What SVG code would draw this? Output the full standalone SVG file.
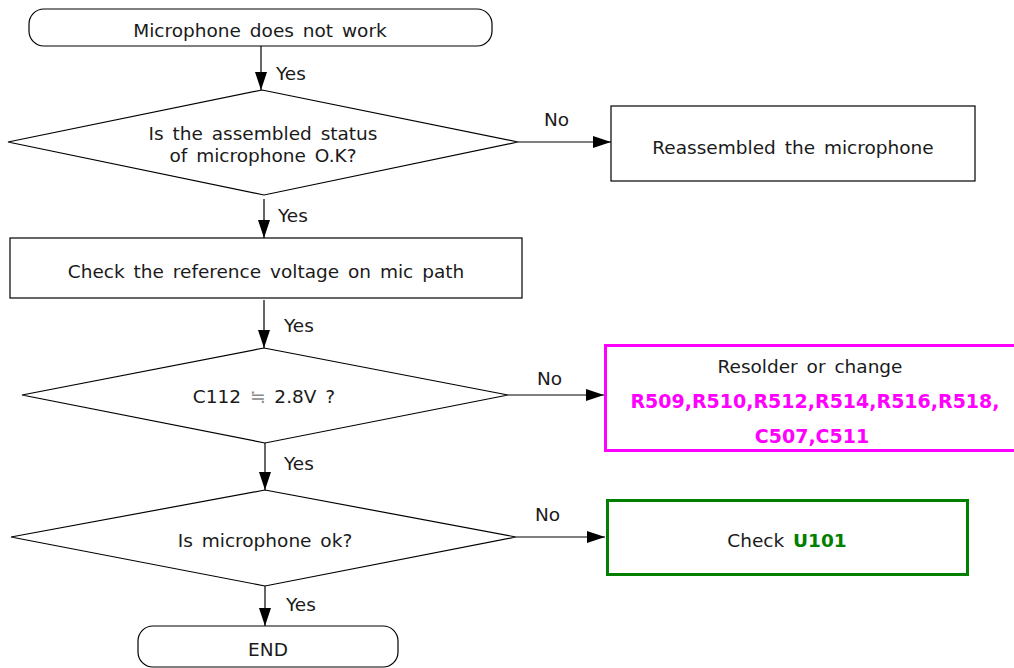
<svg xmlns="http://www.w3.org/2000/svg" width="1014" height="668" viewBox="0 0 1014 668">
<style>
text{font-family:"DejaVu Sans","Liberation Sans",sans-serif;font-size:18.5px;fill:#1a1a1a;text-anchor:middle;word-spacing:3px}
.shape{fill:#fff;stroke:#000;stroke-width:1.2}
.line{stroke:#000;stroke-width:1.2;fill:none}
.lbl{text-anchor:start}
.mag{fill:#ff00ff;font-weight:bold;word-spacing:0;font-size:19px}
.grn{fill:#008000;font-weight:bold}
</style>
<defs>
<marker id="ah" markerWidth="18" markerHeight="12" refX="18" refY="6" orient="auto" markerUnits="userSpaceOnUse">
<path d="M0,0 L18,6 L0,12 Z" fill="#000"/>
</marker>
</defs>
<rect width="1014" height="668" fill="#fff"/>
<g id="connectors">
<line class="line" x1="261" y1="46" x2="261" y2="90" marker-end="url(#ah)"/>
<text class="lbl" x="276" y="80">Yes</text>
<line class="line" x1="518" y1="142" x2="611" y2="142" marker-end="url(#ah)"/>
<text class="lbl" x="544" y="126">No</text>
<line class="line" x1="264" y1="199" x2="264" y2="238" marker-end="url(#ah)"/>
<text class="lbl" x="278" y="222">Yes</text>
<line class="line" x1="264" y1="300" x2="264" y2="348" marker-end="url(#ah)"/>
<text class="lbl" x="284" y="332">Yes</text>
<line class="line" x1="508" y1="395" x2="604" y2="395" marker-end="url(#ah)"/>
<text class="lbl" x="537" y="385">No</text>
<line class="line" x1="265" y1="443" x2="265" y2="490" marker-end="url(#ah)"/>
<text class="lbl" x="284" y="470">Yes</text>
<line class="line" x1="516" y1="537" x2="605" y2="537" marker-end="url(#ah)"/>
<text class="lbl" x="535" y="521">No</text>
<line class="line" x1="265" y1="586" x2="265" y2="626" marker-end="url(#ah)"/>
<text class="lbl" x="286" y="611">Yes</text>
</g>
<g id="start">
<rect class="shape" x="29" y="9" width="463" height="37" rx="15" ry="15"/>
<text x="260" y="37">Microphone does not work</text>
</g>
<g id="d1">
<polygon class="shape" points="262,90 518,142 264,195 8,142"/>
<text x="263" y="140">Is the assembled status</text>
<text x="263" y="162">of microphone O.K?</text>
</g>
<g id="reassemble">
<rect class="shape" x="611" y="106" width="364" height="75"/>
<text x="793" y="154">Reassembled the microphone</text>
</g>
<g id="checkref">
<rect class="shape" x="10" y="238" width="512" height="60"/>
<text x="266" y="278">Check the reference voltage on mic path</text>
</g>
<g id="d2">
<polygon class="shape" points="264,348 508,395 265,443 22,395"/>
<text x="264" y="403">C112 <tspan fill="#888">≒</tspan> 2.8V ?</text>
</g>
<g id="resolder">
<rect x="605.5" y="345.5" width="412" height="105" fill="#fff" stroke="#ff00ff" stroke-width="3"/>
<text x="810" y="373">Resolder or change</text>
<text class="mag" x="815" y="408">R509,R510,R512,R514,R516,R518,</text>
<text class="mag" x="812" y="443">C507,C511</text>
</g>
<g id="d3">
<polygon class="shape" points="265,490 516,537 265,586 11,537"/>
<text x="265" y="547">Is microphone ok?</text>
</g>
<g id="checku">
<rect x="607.5" y="500.5" width="360" height="74" fill="#fff" stroke="#008000" stroke-width="3"/>
<text x="787" y="547">Check <tspan class="grn">U101</tspan></text>
</g>
<g id="end">
<rect class="shape" x="138" y="626" width="260" height="41" rx="15" ry="15"/>
<text x="268" y="656">END</text>
</g>
</svg>
